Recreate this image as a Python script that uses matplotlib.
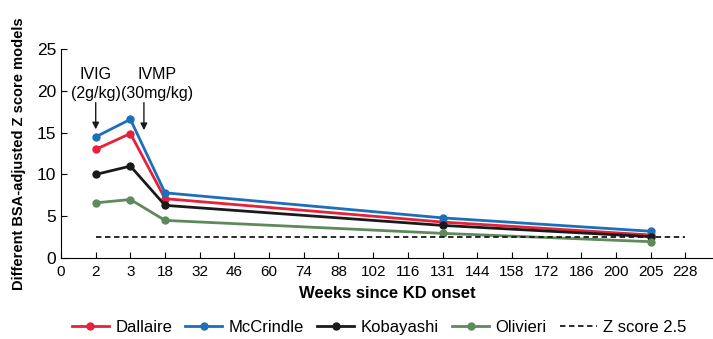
import matplotlib
matplotlib.use('Agg')
import matplotlib.pyplot as plt

plt.rcParams['font.family'] = ['Liberation Sans', 'DejaVu Sans']

# x axis is categorical: the tick labels are evenly spaced
xlabels = ['0', '2', '3', '18', '32', '46', '60', '74', '88', '102', '116',
           '131', '144', '158', '172', '186', '200', '205', '228']
weeks = ['2', '3', '18', '131', '205']

dallaire = [13.0, 14.9, 7.1, 4.3, 2.75]
mccrindle = [14.5, 16.6, 7.8, 4.8, 3.2]
kobayashi = [10.0, 11.0, 6.3, 3.9, 2.55]
olivieri = [6.6, 7.0, 4.5, 2.95, 1.95]
z_cut = 2.5

pos = {lab: i for i, lab in enumerate(xlabels)}

fig = plt.figure(figsize=(7.13, 3.39), dpi=100)
ax = fig.add_axes([0.0856, 0.239, 0.9144, 0.616])

xs = [pos[w] for w in weeks]
series = [
    ('Dallaire', dallaire, '#e8203a'),
    ('McCrindle', mccrindle, '#1c6fb9'),
    ('Kobayashi', kobayashi, '#1a1a1a'),
    ('Olivieri', olivieri, '#5e8a5b'),
]
for name, vals, col in series:
    ax.plot(xs, vals, color=col, lw=2, marker='o', ms=5, label=name)
ax.plot([pos['2'], pos['228']], [z_cut, z_cut], color='#1a1a1a', lw=1.3,
        ls=(0, (3, 2)), label='Z score 2.5')

ax.set_xticks(range(len(xlabels)))
ax.set_xticklabels(xlabels, fontsize=11)
ax.set_xlim(0, 18.8)
ax.set_ylim(0, 25)
ax.set_yticks([0, 5, 10, 15, 20, 25])
ax.tick_params(axis='y', labelsize=12.5, direction='in', length=4)
ax.tick_params(axis='x', direction='in', length=4, pad=5)
for s in ['top', 'right']:
    ax.spines[s].set_visible(False)

ax.set_xlabel('Weeks since KD onset', fontsize=12, fontweight='bold', labelpad=5)
ax.set_ylabel('Different BSA-adjusted Z score models', fontsize=10.5,
              fontweight='bold', labelpad=8)

arrow = dict(arrowstyle='-|>', color='#1a1a1a', lw=1, shrinkA=0, shrinkB=0,
             mutation_scale=10)
ax.annotate('', xy=(pos['2'], 15.4), xytext=(pos['2'], 18.6), arrowprops=arrow)
ax.annotate('', xy=(2.39, 15.3), xytext=(2.39, 18.6), arrowprops=arrow)
ax.text(pos['2'], 18.8, 'IVIG\n(2g/kg)', ha='center', va='bottom',
        fontsize=11.5, linespacing=1.3)
ax.text(2.77, 18.8, 'IVMP\n(30mg/kg)', ha='center', va='bottom',
        fontsize=11.5, linespacing=1.3)

fig.legend(loc='center', bbox_to_anchor=(0.532, 0.035), ncol=5, frameon=False,
           fontsize=12, handlelength=2.2, handletextpad=0.4, columnspacing=0.8)

fig.savefig('out.png', dpi=100)
